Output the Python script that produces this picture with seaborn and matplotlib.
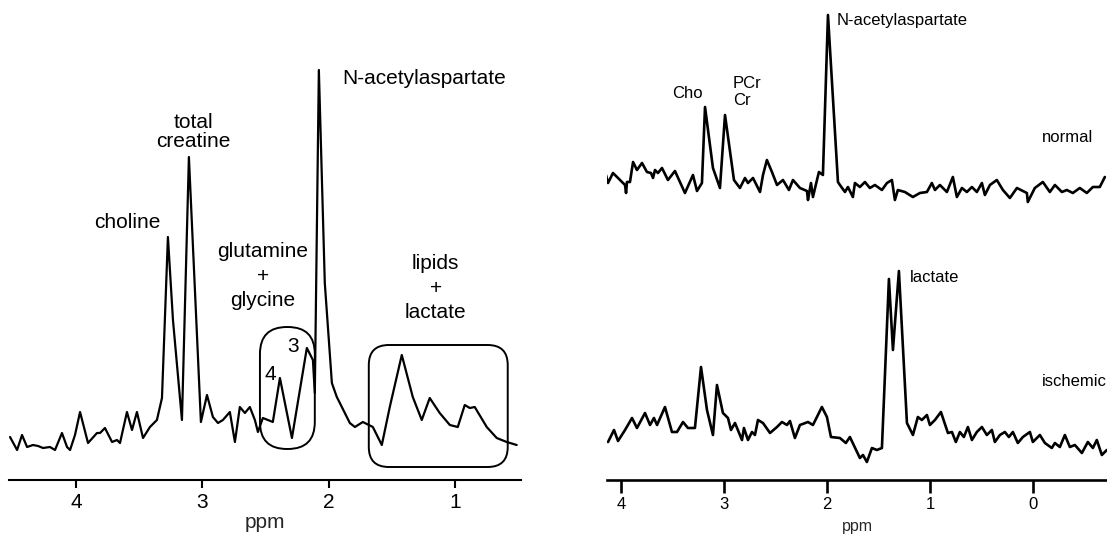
import numpy as np
import matplotlib
matplotlib.use("Agg")
import matplotlib.pyplot as plt
import matplotlib.transforms as mtransforms
from matplotlib.patches import FancyBboxPatch
import seaborn as sns
import pandas as pd

# ---- left spectrum (ppm, intensity in arbitrary units) ----
left_ppm = [4.522, 4.466, 4.427, 4.387, 4.340, 4.300, 4.261, 4.206, 4.166, 4.111,
            4.071, 4.047, 4.008, 3.968, 3.905, 3.834, 3.810, 3.771, 3.715, 3.676,
            3.652, 3.597, 3.557, 3.518, 3.470, 3.415, 3.360, 3.320, 3.273, 3.233,
            3.162, 3.107, 3.012, 2.964, 2.917, 2.877, 2.838, 2.783, 2.743, 2.704,
            2.664, 2.625, 2.585, 2.561, 2.522, 2.482, 2.443, 2.387, 2.292, 2.174,
            2.126, 2.111, 2.079, 2.032, 1.976, 1.937, 1.913, 1.834, 1.794, 1.731,
            1.652, 1.581, 1.518, 1.423, 1.336, 1.265, 1.202, 1.123, 1.043, 0.980,
            0.925, 0.885, 0.846, 0.751, 0.672, 0.593, 0.514]
left_int = [43, 30, 45, 33, 35, 34, 32, 33, 30, 47,
            33, 30, 45, 68, 37, 47, 47, 52, 38, 40,
            37, 68, 50, 68, 42, 53, 60, 82, 243, 160,
            60, 323, 58, 85, 63, 57, 60, 68, 38, 73,
            67, 73, 60, 48, 62, 60, 58, 102, 42, 132,
            120, 87, 410, 197, 97, 83, 77, 57, 53, 58,
            53, 35, 73, 125, 83, 60, 82, 67, 55, 53,
            75, 72, 73, 53, 42, 38, 35]

left_labels = ["N-acetylaspartate", "total\ncreatine", "choline",
               "glutamine\n+\nglycine", "lipids\n+\nlactate", "4", "3"]
left_label_ppm = [1.897, 3.075, 3.597, 2.522, 1.154, 2.466, 2.285]
left_label_int = [402, 348, 257, 204, 192, 106, 133]
left_label_ha = ["left", "center", "center", "center", "center", "center", "center"]
left_label_ls = [1.0, 1.05, 1.0, 1.35, 1.35, 1.0, 1.0]

# rounded boxes: (ppm_high, ppm_low, int_low, int_high, corner radius px)
box_ppm_hi = [2.545, 1.684]
box_ppm_lo = [2.111, 0.585]
box_int_lo = [31, 13]
box_int_hi = [153, 135]
box_radius = [27, 20]

left_ticks = [4, 3, 2, 1]

# ---- right spectra: normal and ischemic ----
normal_ppm = [4.146, 4.126, 4.078, 4.029, 3.961, 3.951, 3.942, 3.913, 3.883, 3.845,
              3.796, 3.748, 3.709, 3.689, 3.670, 3.641, 3.602, 3.544, 3.476, 3.379,
              3.301, 3.262, 3.214, 3.184, 3.107, 3.039, 2.990, 2.903, 2.845, 2.796,
              2.767, 2.718, 2.650, 2.621, 2.583, 2.534, 2.485, 2.427, 2.369, 2.330,
              2.262, 2.194, 2.184, 2.155, 2.136, 2.078, 2.039, 1.990, 1.893, 1.874,
              1.825, 1.796, 1.748, 1.728, 1.680, 1.631, 1.583, 1.534, 1.466, 1.417,
              1.369, 1.340, 1.311, 1.243, 1.165, 1.097, 1.029, 0.981, 0.951, 0.903,
              0.835, 0.777, 0.738, 0.689, 0.641, 0.592, 0.544, 0.495, 0.466, 0.417,
              0.350, 0.291, 0.223, 0.155, 0.058, 0.049, -0.019, -0.097, -0.165, -0.214,
              -0.282, -0.330, -0.388, -0.456, -0.524, -0.583, -0.650, -0.699]
normal_int = [305, 297, 307, 302, 295, 287, 298, 298, 318, 310,
              317, 308, 307, 302, 310, 307, 312, 300, 309, 287,
              305, 289, 297, 373, 312, 292, 365, 300, 292, 302,
              297, 302, 288, 305, 320, 308, 295, 300, 290, 300,
              292, 289, 280, 297, 283, 308, 305, 465, 298, 295,
              288, 293, 283, 297, 293, 298, 292, 295, 290, 297,
              300, 280, 290, 288, 283, 287, 288, 297, 290, 295,
              288, 303, 283, 292, 288, 293, 288, 297, 285, 295,
              300, 290, 282, 292, 287, 278, 292, 298, 288, 295,
              288, 290, 287, 292, 287, 293, 293, 303]

ischemic_ppm = [4.126, 4.068, 4.029, 3.961, 3.893, 3.845, 3.767, 3.718, 3.680, 3.650,
                3.573, 3.505, 3.456, 3.398, 3.350, 3.282, 3.223, 3.165, 3.107, 3.068,
                3.010, 2.961, 2.932, 2.893, 2.825, 2.806, 2.767, 2.728, 2.699, 2.670,
                2.621, 2.553, 2.485, 2.437, 2.388, 2.359, 2.311, 2.262, 2.184, 2.136,
                2.049, 2.000, 1.961, 1.874, 1.816, 1.777, 1.680, 1.650, 1.612, 1.563,
                1.515, 1.466, 1.398, 1.359, 1.301, 1.223, 1.165, 1.117, 1.078, 1.029,
                1.000, 0.951, 0.893, 0.825, 0.786, 0.748, 0.709, 0.670, 0.631, 0.592,
                0.544, 0.495, 0.447, 0.398, 0.369, 0.320, 0.272, 0.233, 0.194, 0.146,
                0.097, 0.029, 0.000, -0.068, -0.117, -0.184, -0.214, -0.262, -0.311, -0.359,
                -0.408, -0.476, -0.534, -0.583, -0.621, -0.670, -0.718]
ischemic_int = [38, 50, 39, 50, 62, 52, 67, 55, 62, 55,
                73, 48, 48, 58, 52, 52, 113, 70, 45, 95,
                67, 62, 50, 57, 40, 52, 40, 48, 45, 60,
                57, 47, 53, 58, 55, 59, 42, 55, 58, 55,
                73, 63, 43, 42, 37, 43, 22, 25, 18, 32,
                30, 32, 201, 130, 209, 57, 45, 63, 60, 65,
                55, 60, 68, 47, 48, 38, 48, 43, 53, 40,
                48, 53, 45, 50, 38, 45, 48, 43, 48, 37,
                43, 48, 38, 45, 37, 32, 37, 33, 45, 33,
                35, 27, 38, 32, 40, 25, 30]

right_labels = ["N-acetylaspartate", "Cho", "PCr\nCr", "normal", "lactate", "ischemic"]
right_label_ppm = [1.903, 3.359, 2.913, -0.340, 1.194, -0.087]
right_label_int = [459, 387, 388, 343, 203, 98]
right_label_ha = ["left", "center", "left", "center", "left", "left"]

right_ticks = [4, 3, 2, 1, 0]

# ---- figure ----
sns.set_theme(style="white")
plt.rcParams["font.family"] = ["Liberation Sans", "DejaVu Sans"]
plt.rcParams["text.color"] = "black"

W, H = 1107, 542
fig = plt.figure(figsize=(W / 100, H / 100), dpi=100)

axL = fig.add_axes([9 / W, (H - 480) / H, 512 / W, 440 / H])
axR = fig.add_axes([607 / W, (H - 480) / H, 500 / W, 480 / H])

left_df = pd.DataFrame({"ppm": left_ppm, "intensity": left_int})
norm_df = pd.DataFrame({"ppm": normal_ppm, "intensity": normal_int})
isch_df = pd.DataFrame({"ppm": ischemic_ppm, "intensity": ischemic_int})

sns.lineplot(data=left_df, x="ppm", y="intensity", ax=axL, color="black",
             lw=1.6, sort=False, estimator=None)
sns.lineplot(data=norm_df, x="ppm", y="intensity", ax=axR, color="black",
             lw=1.9, sort=False, estimator=None)
sns.lineplot(data=isch_df, x="ppm", y="intensity", ax=axR, color="black",
             lw=1.9, sort=False, estimator=None)

axL.set_xlim(4.53, 0.48)
axL.set_ylim(0, 440)
axR.set_xlim(4.136, -0.72)
axR.set_ylim(0, 480)

for ax, ticks, fs, tl, tw in [(axL, left_ticks, 15, 6, 1.5), (axR, right_ticks, 12, 9, 1.9)]:
    for s in ["left", "right", "top"]:
        ax.spines[s].set_visible(False)
    ax.spines["bottom"].set_linewidth(tw)
    ax.spines["bottom"].set_color("black")
    ax.set_yticks([])
    ax.set_ylabel("")
    ax.set_xticks(ticks)
    ax.set_xticklabels([str(t) for t in ticks])
    ax.tick_params(axis="x", bottom=True, direction="out", length=tl, width=tw,
                   color="black", labelsize=fs, labelcolor="black", pad=3)
    ax.set_facecolor("none")

axL.set_xlabel("ppm", fontsize=15, labelpad=1)
axR.set_xlabel("ppm", fontsize=11.5, labelpad=5)

for t, x, y, ha, ls in zip(left_labels, left_label_ppm, left_label_int,
                           left_label_ha, left_label_ls):
    axL.text(x, y, t, fontsize=15, ha=ha, va="center", linespacing=ls)

for t, x, y, ha in zip(right_labels, right_label_ppm, right_label_int, right_label_ha):
    axR.text(x, y, t, fontsize=12, ha=ha, va="center", linespacing=1.1, clip_on=False)

# rounded boxes drawn in pixel space so the corners stay circular
for phi, plo, ilo, ihi, r in zip(box_ppm_hi, box_ppm_lo, box_int_lo, box_int_hi, box_radius):
    (x0, y0), (x1, y1) = axL.transData.transform([(phi, ilo), (plo, ihi)])
    xa, xb = sorted([x0, x1])
    ya, yb = sorted([y0, y1])
    box = FancyBboxPatch((xa, ya), xb - xa, yb - ya,
                         boxstyle=f"round,pad=0,rounding_size={r}",
                         transform=mtransforms.IdentityTransform(),
                         fill=False, ec="black", lw=1.4)
    fig.add_artist(box)

fig.savefig("out.png", dpi=100)
